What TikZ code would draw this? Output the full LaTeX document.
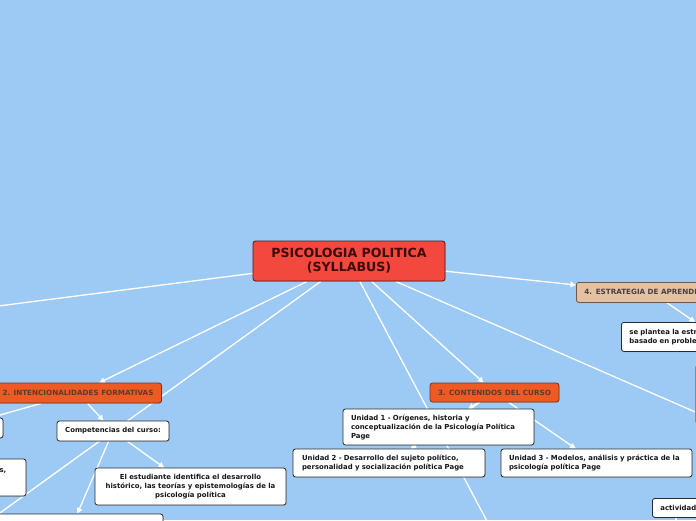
\documentclass[tikz,border=0pt]{standalone}
\usepackage{fontspec}
\setmainfont{DejaVu Sans}
\usetikzlibrary{arrows.meta,calc,shadows}
\definecolor{bgblue}{HTML}{9CCAF5}
\definecolor{rootfill}{HTML}{F2483E}
\definecolor{rootline}{HTML}{5A1515}
\definecolor{roottxt}{HTML}{3F0A0A}
\definecolor{orangeH}{HTML}{EE5A24}
\definecolor{orangeline}{HTML}{7A3418}
\definecolor{hdrtxt}{HTML}{5B3B2E}
\definecolor{tanH}{HTML}{E3C1A1}
\definecolor{tanline}{HTML}{6E5A4A}
\definecolor{tantxt}{HTML}{4A4040}
\definecolor{boxline}{HTML}{2B2B2B}
\definecolor{txtdark}{HTML}{161616}
\pgfdeclarelayer{bg}
\pgfdeclarelayer{edges}
\pgfsetlayers{bg,edges,main}
\tikzset{
  box/.style={draw=boxline, fill=white, rounded corners=2.5pt, line width=0.8pt,
    font=\bfseries\fontsize{6.9}{9}\selectfont, text=txtdark,
    inner xsep=8pt, inner ysep=0pt,
    drop shadow={shadow xshift=0.6pt, shadow yshift=-0.6pt, opacity=0.45}},
  header/.style={box, fill=orangeH, draw=orangeline, text=hdrtxt,
    font=\bfseries\fontsize{7.2}{9}\selectfont},
  tanbox/.style={box, fill=tanH, draw=tanline, text=tantxt,
    font=\bfseries\fontsize{7.2}{9}\selectfont},
  rootbox/.style={box, fill=rootfill, draw=rootline, text=roottxt,
    font=\bfseries\fontsize{12.6}{14}\selectfont},
  link/.style={draw=white, line width=1.3pt},
  arr/.style={link, -{Triangle[length=5.5pt,width=5.5pt]}},
}
\begin{document}
\begin{tikzpicture}[x=1pt,y=-1pt]
\useasboundingbox (0,0) rectangle (696,520);
\begin{pgfonlayer}{bg}
  \fill[bgblue] (0,0) rectangle (696,520);
\end{pgfonlayer}

% nodes
\node[rootbox, minimum width=192pt, minimum height=40pt, align=center] (root) at (349,261)
  {PSICOLOGIA POLITICA\\(SYLLABUS)};

\node[header, minimum width=166pt, minimum height=20pt, align=center] (intenc) at (78,393)
  {2. INTENCIONALIDADES FORMATIVAS};
\node[box, minimum width=112pt, minimum height=20pt, align=center] (comp) at (113,431)
  {Competencias del curso:};
\node[box, minimum width=98pt, minimum height=20pt] (leftA) at (-46,428) {};
\node[box, minimum width=126pt, minimum height=37pt] (leftS) at (-37,477.5) {};
\node[font=\bfseries\fontsize{6.9}{9}\selectfont, text=txtdark, anchor=base east, inner sep=0pt] (leftStxt) at (6.5,472) {s,};
\node[box, minimum width=191pt, minimum height=37pt, align=center] (estud) at (190.5,486.5)
  {El estudiante identifica el desarrollo\\histórico, las teorías y epistemologías de la\\psicología política};
\node[box, minimum width=263pt, minimum height=40pt] (bottomL) at (31.5,534) {};

\node[header, minimum width=125pt, minimum height=19pt, align=center] (cont) at (494.5,392.5)
  {3. CONTENIDOS DEL CURSO};
\node[box, minimum width=191pt, minimum height=36pt, text width=175pt, align=left] (u1) at (438.5,427)
  {Unidad 1 - Orígenes, historia y\\conceptualización de la Psicología Política\\Page};
\node[box, minimum width=192pt, minimum height=28pt, text width=174pt, inner xsep=9pt, align=left] (u2) at (389,463)
  {Unidad 2 - Desarrollo del sujeto político,\\personalidad y socialización política Page};
\node[box, minimum width=191pt, minimum height=28pt, text width=175pt, align=left] (u3) at (596.5,463)
  {Unidad 3 - Modelos, análisis y práctica de la\\psicología política Page};
\node[box, minimum width=120pt, minimum height=19pt, text width=104pt, align=left, anchor=north west] (activ) at (652,498)
  {actividades};

\node[tanbox, minimum width=190pt, minimum height=20pt, text width=174pt, align=left, anchor=north west] (estrat) at (576,282)
  {4. ESTRATEGIA DE APRENDIZAJE};
\node[box, minimum width=190pt, minimum height=29pt, text width=174pt, align=left, anchor=north west] (plantea) at (621,322)
  {se plantea la estrategia de aprendizaje\\basado en problemas};
\node[box, draw=boxline!55, minimum width=120pt, minimum height=58pt, anchor=north west] (rightB) at (695,365) {};

% off-canvas ends
\coordinate (offL1) at (-60,313.5);
\coordinate (offL2) at (-30,534.6);
\coordinate (offB) at (497,540);
\coordinate (offR) at (760,440.2);
\coordinate (offA) at (676,560);

\begin{pgfonlayer}{edges}
  \draw[link] (root) -- (offL1);
  \draw[link] (root) -- (offL2);
  \draw[link] (root) -- (offB);
  \draw[link] (root) -- (offR);
  \draw[arr] (root) -- (intenc);
  \draw[arr] (root) -- (cont);
  \draw[arr] (root) -- ($(estrat.north west)+(0,3)$);
  \draw[arr] ($(estrat.south west)+(91,0)$) -- ($(plantea.north west)+(74,0)$);
  \draw[arr] (intenc) -- (leftA);
  \draw[arr] (intenc) -- (comp);
  \draw[arr] (comp) -- (estud);
  \draw[arr] (comp) -- ($(bottomL.north east)+(-86,0)$);
  \draw[arr] (cont) -- (u1);
  \draw[arr] (cont) -- (u2);
  \draw[arr] (cont) -- (u3);
  \draw[link] ($(activ.south west)+(24,0)$) -- (offA);
\end{pgfonlayer}
\end{tikzpicture}
\end{document}
